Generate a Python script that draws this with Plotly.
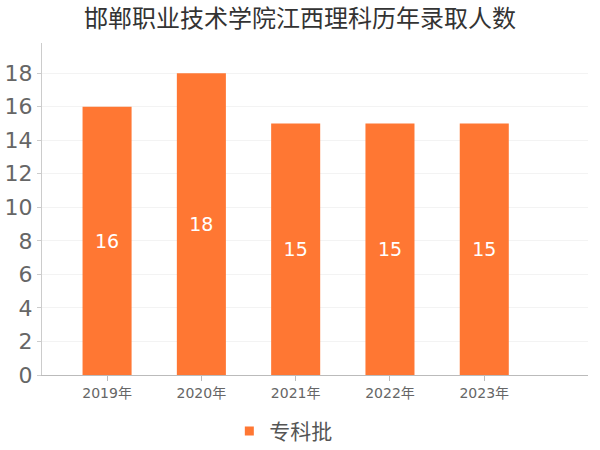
import plotly.graph_objects as go

categories = ["2019年", "2020年", "2021年", "2022年", "2023年"]
values = [16, 18, 15, 15, 15]
series_name = "专科批"
title_text = "邯郸职业技术学院江西理科历年录取人数"
bar_color = "#FF7733"

fig = go.Figure()
fig.add_trace(go.Bar(
    x=categories, y=values, name=series_name,
    marker=dict(color=bar_color, line=dict(width=0)),
    width=0.52,
    text=[str(v) for v in values], textposition="inside",
    insidetextanchor="middle",
    textfont=dict(color="white", size=19, family="DejaVu Sans, Noto Sans CJK SC"),
    showlegend=False,
))
# legend entry with a small square symbol
fig.add_trace(go.Scatter(
    x=[None], y=[None], mode="markers", name=series_name,
    marker=dict(symbol="square", size=9, color=bar_color),
    showlegend=True, hoverinfo="skip",
))
fig.update_layout(
    width=600, height=450,
    margin=dict(l=42, r=12, t=43, b=75, autoexpand=False),
    paper_bgcolor="white", plot_bgcolor="white",
    font=dict(family="DejaVu Sans, Noto Sans CJK SC", color="#666666"),
    title=dict(text=title_text, x=0.5, xanchor="center", y=0.958, yanchor="middle",
               font=dict(size=24, color="#333333", family="Noto Sans CJK SC")),
    showlegend=True,
    legend=dict(orientation="h", x=0.442, xanchor="center", y=-0.17, yanchor="middle",
                font=dict(size=21, color="#555555", family="Noto Sans CJK SC"),
                itemwidth=30),
    xaxis=dict(type="category", range=[-0.69, 5.1], showline=True, linecolor="#bbbbbb",
               ticks="outside", ticklen=5, tickcolor="#bbbbbb",
               tickfont=dict(size=14, color="#666666", family="DejaVu Sans, Noto Sans CJK SC"),
               showgrid=False),
    yaxis=dict(range=[0, 19.8], dtick=2, showline=True, linecolor="#cccccc",
               ticks="outside", ticklen=4, tickcolor="#cccccc",
               gridcolor="#f3f3f3", zeroline=False,
               tickfont=dict(size=22, color="#666666", family="DejaVu Sans")),
    bargap=0.48,
)
fig.write_html("out.html", config={"displayModeBar": False},
               post_script="document.body.style.margin='0';document.body.style.padding='0';")
